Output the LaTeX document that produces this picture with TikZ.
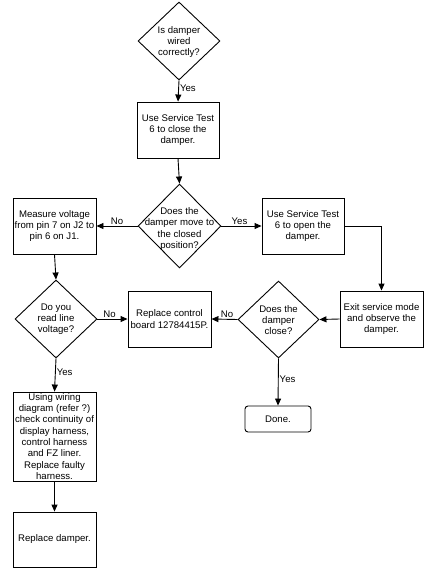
\documentclass[tikz,border=0pt]{standalone}
\usepackage{fontspec}
\setmainfont{Liberation Sans}
\usetikzlibrary{shapes.geometric,arrows.meta}
\begin{document}
\begin{tikzpicture}[x=1pt,y=-1pt,
  font=\fontsize{9.6}{11.3}\selectfont,
  line width=0.9pt,
  box/.style={draw, rectangle, minimum width=83pt, minimum height=56pt, inner sep=0pt, align=center},
  dia/.style={draw, diamond, inner sep=0pt, minimum width=82pt, minimum height=78pt},
  dtext/.style={align=center, inner sep=0pt},
  arr/.style={-{Triangle[length=7pt,width=6pt]}},
  lab/.style={inner sep=1pt}
]
\useasboundingbox (0,0) rectangle (429,578);
\fill[white] (0,0) rectangle (429,578);

% diamonds
\node[dia] (d1) at (179,41) {};
\node[dtext] (d1t) at (179,42) {Is damper\\wired\\correctly?};
\node[dia, minimum width=83pt, minimum height=84pt] (d2) at (179.5,226) {};
\node[dtext] (d2t) at (179.5,229) {Does the\\damper move to\\the closed\\position?};
\node[dia] (d3) at (56,319) {};
\node[dtext] (d3t) at (56,319) {Do you\\read line\\voltage?};
\node[dia, minimum width=81pt, minimum height=77pt] (d4) at (278.5,319.5) {};
\node[dtext] (d4t) at (278.5,320) {Does the\\damper\\close?};

% boxes
\node[box, minimum width=82pt] (b1) at (178,130) {Use Service Test\\6 to close the\\damper.};
\node[box] (mv) at (54.5,226) {Measure voltage\\from pin 7 on J2 to\\pin 6 on J1.};
\node[box, minimum width=82pt] (op) at (303,226) {Use Service Test\\6 to open the\\damper.};
\node[box] (ex) at (381.5,319) {Exit service mode\\and observe the\\damper.};
\node[box] (rc) at (169.5,319) {Replace control\\board 12784415P.};
\node[box, minimum height=89pt] (uw) at (54.5,436.5) {Using wiring\\diagram (refer ?)\\check continuity of\\display harness,\\control harness\\and FZ liner.\\Replace faulty\\harness.};
\node[box, minimum height=55pt] (rd) at (54.5,539.5) {Replace damper.};
\node[draw, rectangle, rounded corners=3pt, minimum width=66pt, minimum height=26pt, inner sep=1pt] (dn) at (278,419) {Done.};

% connectors
\draw[arr] (d1.south) -- node[lab, anchor=west, pos=0.38] {Yes} (b1.north);
\draw[arr] (b1.south) -- (d2.north);
\draw[arr] (d2.west) -- node[lab, anchor=south, pos=0.5] {No} (mv.east);
\draw[arr] (d2.east) -- node[lab, anchor=south, pos=0.45] {Yes} (op.west);
\draw[arr] (op.east) -| (ex.north);
\draw[arr] (mv.south) -- (d3.north);
\draw[arr] (ex.west) -- (d4.east);
\draw[arr] (d4.west) -- node[lab, anchor=south, pos=0.4] {No} (rc.east);
\draw[arr] (d3.east) -- node[lab, anchor=south, pos=0.4] {No} (rc.west);
\draw[arr] (d3.south) -- node[lab, anchor=west, pos=0.42] {Yes} (uw.north);
\draw[arr] (d4.south) -- node[lab, anchor=west, pos=0.45] {Yes} (dn.north);
\draw[arr] (uw.south) -- (rd.north);
\end{tikzpicture}
\end{document}
